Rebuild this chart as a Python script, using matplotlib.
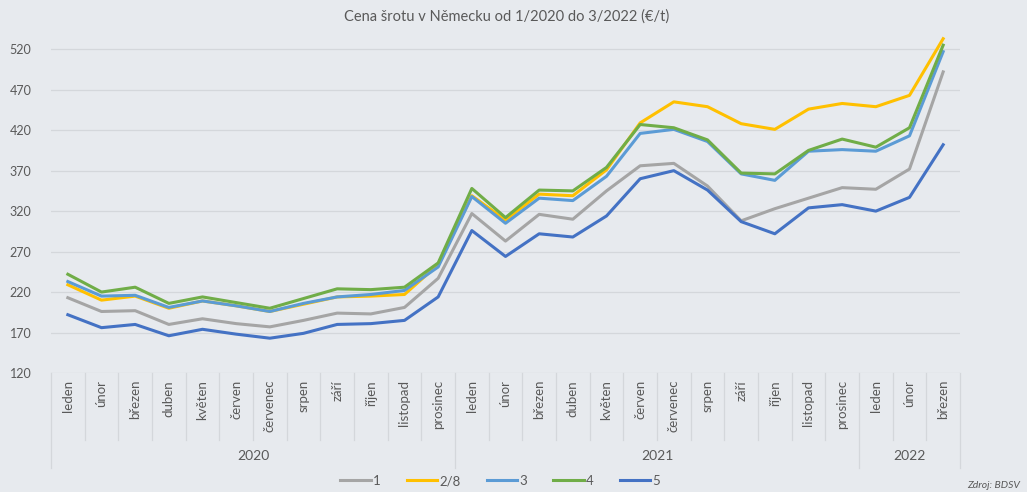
import matplotlib.pyplot as plt
import matplotlib.transforms as mtransforms

plt.rcParams['font.family'] = ['Lato', 'DejaVu Sans']

# mesice 1/2020 - 3/2022
mesice = ['leden', 'únor', 'březen', 'duben', 'květen', 'červen', 'červenec',
          'srpen', 'září', 'říjen', 'listopad', 'prosinec',
          'leden', 'únor', 'březen', 'duben', 'květen', 'červen', 'červenec',
          'srpen', 'září', 'říjen', 'listopad', 'prosinec',
          'leden', 'únor', 'březen']
roky = ['2020', '2021', '2022']
roky_pocet = [12, 12, 3]

# ceny (€/t) podle tridy srotu
trida_1 = [213, 196, 197, 180, 187, 181, 177, 185, 194, 193, 201, 237,
           317, 283, 316, 310, 345, 376, 379, 351, 308, 323, 336, 349,
           347, 372, 492]
trida_2_8 = [229, 210, 215, 200, 209, 203, 196, 205, 214, 215, 217, 254,
             339, 309, 341, 339, 371, 429, 455, 449, 428, 421, 446, 453,
             449, 463, 533]
trida_3 = [233, 215, 216, 201, 209, 203, 196, 206, 214, 217, 222, 251,
           338, 305, 336, 333, 363, 416, 421, 406, 366, 358, 394, 396,
           394, 413, 517]
trida_4 = [242, 220, 226, 206, 214, 207, 200, 212, 224, 223, 226, 256,
           348, 312, 346, 345, 374, 427, 423, 408, 367, 366, 395, 409,
           399, 423, 525]
trida_5 = [192, 176, 180, 166, 174, 168, 163, 169, 180, 181, 185, 214,
           296, 264, 292, 288, 314, 360, 370, 346, 307, 292, 324, 328,
           320, 337, 402]

serie = [('1', trida_1, '#A5A5A5'),
         ('2/8', trida_2_8, '#FFC000'),
         ('3', trida_3, '#5B9BD5'),
         ('4', trida_4, '#70AD47'),
         ('5', trida_5, '#4472C4')]

bg = '#E7EAEE'
txt = '#595959'
grid_c = '#D4D7DB'

fig = plt.figure(figsize=(10.27, 4.92), dpi=100, facecolor=bg)
ax = fig.add_axes([51 / 1027, 1 - 373 / 492, 909 / 1027, 344 / 492])
ax.set_facecolor(bg)

x = list(range(len(mesice)))
for nazev, hodnoty, barva in serie:
    ax.plot(x, hodnoty, color=barva, lw=2.2, label=nazev, solid_joinstyle='round')

ax.set_xlim(-0.5, len(mesice) - 0.5)
ax.set_ylim(120, 545)
ax.set_yticks(range(120, 521, 50))
ax.grid(axis='y', color=grid_c, lw=0.9)
ax.set_axisbelow(True)
for s in ax.spines.values():
    s.set_visible(False)
ax.tick_params(axis='y', length=0, labelsize=9, labelcolor=txt, pad=14)
ax.set_xticks(x)
ax.set_xticklabels(mesice, rotation=90, fontsize=9.5, color=txt, va='top')
ax.tick_params(axis='x', length=0, pad=5)

# oddelovace kategorii a roku pod osou
tr = mtransforms.blended_transform_factory(ax.transData, ax.transAxes)
hranice_roku = [-0.5]
for n in roky_pocet:
    hranice_roku.append(hranice_roku[-1] + n)
for i in range(len(mesice) + 1):
    pos = i - 0.5
    dolni = -0.275 if pos in hranice_roku else -0.195
    ax.plot([pos, pos], [0, dolni], transform=tr, color=grid_c, lw=0.9,
            clip_on=False)
for i, rok in enumerate(roky):
    stred = (hranice_roku[i] + hranice_roku[i + 1]) / 2
    ax.text(stred, -0.24, rok, transform=tr, ha='center', va='center',
            fontsize=10, color=txt)

fig.text(507 / 1027, 1 - 17 / 492, 'Cena šrotu v Německu od 1/2020 do 3/2022 (€/t)',
         ha='center', va='center', fontsize=10.5, color=txt)

fig.legend(loc='center', bbox_to_anchor=(500 / 1027, 1 - 481 / 492), ncol=5,
           frameon=False, fontsize=9.5, labelcolor=txt, handlelength=2.3,
           handletextpad=0.15, columnspacing=2.0)

fig.text(967 / 1027, 1 - 485 / 492, 'Zdroj: BDSV', ha='left', va='center',
         fontsize=7.5, style='italic', color=txt)

fig.savefig('out.png', dpi=100, facecolor=bg)
